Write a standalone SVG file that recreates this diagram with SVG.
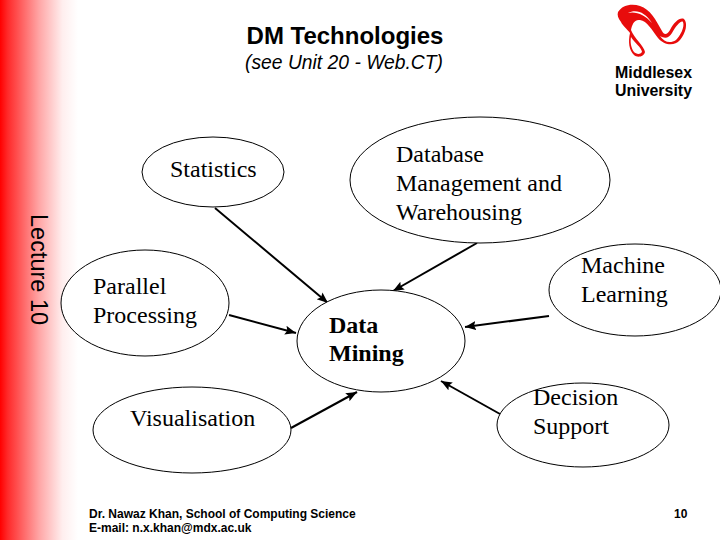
<svg xmlns="http://www.w3.org/2000/svg" width="720" height="540" viewBox="0 0 720 540">
<defs>
<linearGradient id="band" x1="0" y1="0" x2="1" y2="0"><stop offset="0" stop-color="#ff0000"/><stop offset="0.1" stop-color="#ff2a2a"/><stop offset="0.5" stop-color="#ffa5a5"/><stop offset="0.8" stop-color="#ffeeee"/><stop offset="1" stop-color="#ffffff"/></linearGradient>
<marker id="arr" markerUnits="userSpaceOnUse" markerWidth="12" markerHeight="10" refX="11" refY="4.5" orient="auto"><path d="M0 0L11 4.5L0 9L2 4.5Z" fill="#000"/></marker>
</defs>
<style>
.n{fill:#fff;stroke:#000;stroke-width:1}
.s{font-family:"Liberation Serif",serif;font-size:24px;fill:#000}
.h{font-family:"Liberation Sans",sans-serif;fill:#000}
.c{fill:none;stroke:#000;stroke-width:2;marker-end:url(#arr)}
</style>
<rect width="720" height="540" fill="#fff"/>
<rect id="band-rect" width="78" height="540" fill="url(#band)"/>
<text class="h" x="345" y="44" font-size="24" font-weight="bold" text-anchor="middle" fill="#111">DM Technologies</text>
<text class="h" x="344" y="69" font-size="19.3" font-style="italic" text-anchor="middle">(see Unit 20 - Web.CT)</text>
<g id="logo">
<path fill-rule="evenodd" fill="#e80c0c" d="M618 12C622 5 632 3 640 6C650 9 656 20 662 31C664 35 667 35 670 30C674 22 680 17 684 19C688 23 686 33 680 40C674 47 664 45 658 38C652 30 647 21 640 20C634 19 632 25 631 30C634 38 644 46 645 52C644 57 637 58 634 55C629 50 628 42 630 33C628 30 622 25 621 22C618 18 617 15 618 12Z
M672 33C676 26 681 20 683 22C685 27 680 36 676 40C670 44 664 42 660 36C665 39 669 38 672 33Z
M631 37C634 42 642 48 642 52C640 55 636 54 634 52C631 48 630 42 631 37Z
M628 13C636 9 645 12 652 23C645 15 636 11 628 13Z"/>
<text class="h" x="615" y="78" font-size="16.5" font-weight="bold" fill="#222" textLength="77" lengthAdjust="spacingAndGlyphs">Middlesex</text>
<text class="h" x="615" y="95.5" font-size="16.5" font-weight="bold" fill="#222" textLength="77" lengthAdjust="spacingAndGlyphs">University</text>
</g>
<text class="h" transform="translate(31 214) rotate(90)" font-size="23.5">Lecture 10</text>
<g id="connectors">
<path class="c" d="M215 208L328 303"/>
<path class="c" d="M477 243L393 291"/>
<path class="c" d="M549 316L465 327"/>
<path class="c" d="M229 315L296 333"/>
<path class="c" d="M291 428L357 392"/>
<path class="c" d="M500 414L441 381"/>
</g>
<g id="statistics"><ellipse class="n" cx="213" cy="172" rx="71" ry="35"/><text class="s" x="170" y="177">Statistics</text></g>
<g id="database"><ellipse class="n" cx="480" cy="180" rx="130" ry="63"/><text class="s" x="396" y="162">Database</text><text class="s" x="396" y="191">Management and</text><text class="s" x="396" y="220">Warehousing</text></g>
<g id="machine"><ellipse class="n" cx="635" cy="290" rx="86" ry="46"/><text class="s" x="581" y="273">Machine</text><text class="s" x="581" y="302">Learning</text></g>
<g id="parallel"><ellipse class="n" cx="145" cy="303" rx="84" ry="53"/><text class="s" x="93" y="294">Parallel</text><text class="s" x="93" y="323">Processing</text></g>
<g id="mining"><ellipse class="n" cx="381" cy="341" rx="84" ry="51"/><text class="s" x="329" y="333" font-weight="bold">Data</text><text class="s" x="329" y="361" font-weight="bold">Mining</text></g>
<g id="visualisation"><ellipse class="n" cx="192" cy="430" rx="99" ry="43"/><text class="s" x="130" y="426">Visualisation</text></g>
<g id="decision"><ellipse class="n" cx="583" cy="425" rx="86" ry="42"/><text class="s" x="533" y="405">Decision</text><text class="s" x="533" y="434">Support</text></g>
<text class="h" x="89" y="518" font-size="12" font-weight="bold">Dr. Nawaz Khan, School of Computing Science</text>
<text class="h" x="89" y="532" font-size="12" font-weight="bold">E-mail: n.x.khan@mdx.ac.uk</text>
<text class="h" x="674" y="518" font-size="12" font-weight="bold">10</text>
</svg>
